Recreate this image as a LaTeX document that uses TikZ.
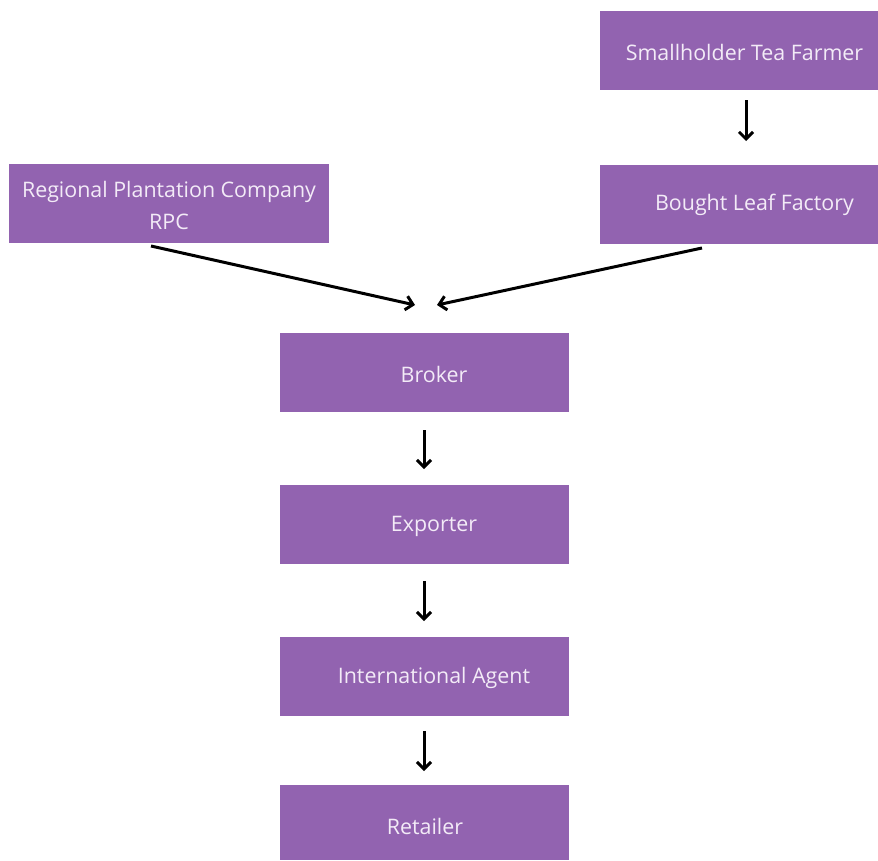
\documentclass[tikz,border=0pt]{standalone}
\usepackage{fontspec}
\setmainfont{Open Sans}
\usetikzlibrary{arrows.meta}
\definecolor{boxpurple}{HTML}{9263B0}
\definecolor{boxtext}{HTML}{F3EBF7}
\begin{document}
\begin{tikzpicture}[x=1pt,y=-1pt,
  box/.style={fill=boxpurple,draw=none},
  lbl/.style={text=boxtext,font=\fontsize{21.4}{32}\selectfont,align=center,inner sep=0pt},
  arr/.style={line width=3pt,-{Straight Barb[length=7pt,width=14pt,line width=3pt]}}]
\useasboundingbox (0,0) rectangle (878,860);
\fill[white] (0,0) rectangle (878,860);
% boxes
\path[box] (600,11) rectangle (878,90);
\node[lbl] (sf) at (744.5,52) {Smallholder Tea Farmer};
\path[box] (600,165) rectangle (878,244);
\node[lbl] (blf) at (754.5,205) {Bought Leaf Factory};
\path[box] (9,164) rectangle (329,243);
\node[lbl] (rpc) at (169,205) {Regional Plantation Company\\RPC};
\path[box] (280,333) rectangle (569,412);
\node[lbl] (br) at (434,374) {Broker};
\path[box] (280,485) rectangle (569,564);
\node[lbl] (ex) at (434,526) {Exporter};
\path[box] (280,637) rectangle (569,716);
\node[lbl] (ia) at (434,678) {International Agent};
\path[box] (280,785) rectangle (569,860);
\node[lbl] (rt) at (425,826) {Retailer};
% arrow endpoints
\coordinate (a1s) at (746,100); \coordinate (a1e) at (746,141);
\coordinate (a2s) at (151,246); \coordinate (a2e) at (415,305);
\coordinate (a3s) at (702,248); \coordinate (a3e) at (437,305);
\coordinate (a4s) at (424,430); \coordinate (a4e) at (424,469);
\coordinate (a5s) at (424,581); \coordinate (a5e) at (424,621);
\coordinate (a6s) at (424,731); \coordinate (a6e) at (424,771);
\draw[arr] (a1s) -- (a1e);
\draw[arr] (a2s) -- (a2e);
\draw[arr] (a3s) -- (a3e);
\draw[arr] (a4s) -- (a4e);
\draw[arr] (a5s) -- (a5e);
\draw[arr] (a6s) -- (a6e);
\end{tikzpicture}
\end{document}
